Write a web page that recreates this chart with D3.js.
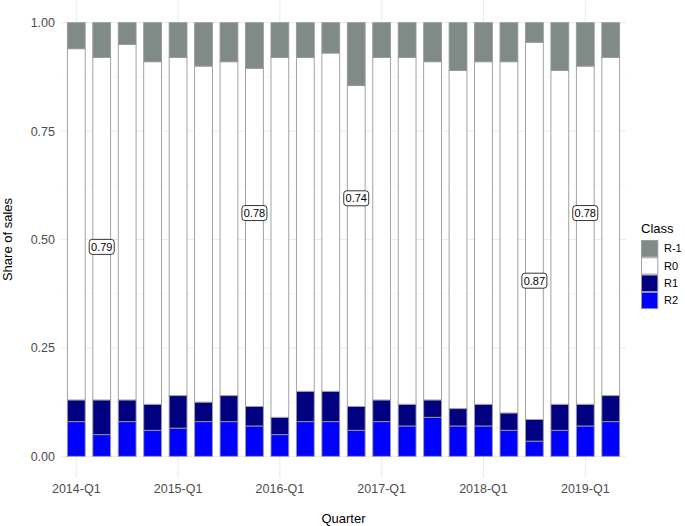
<!DOCTYPE html>
<html>
<head>
<meta charset="utf-8">
<script src="https://cdn.jsdelivr.net/npm/d3@7"></script>
<style>
  body { margin: 0; background: #fff; }
  svg { font-family: "Liberation Sans", Arial, Helvetica, sans-serif; }
</style>
</head>
<body>
<div id="chart"></div>
<script>
// quarters on the x axis
const quarters = [
  "2014-Q1", "2014-Q2", "2014-Q3", "2014-Q4",
  "2015-Q1", "2015-Q2", "2015-Q3", "2015-Q4",
  "2016-Q1", "2016-Q2", "2016-Q3", "2016-Q4",
  "2017-Q1", "2017-Q2", "2017-Q3", "2017-Q4",
  "2018-Q1", "2018-Q2", "2018-Q3", "2018-Q4",
  "2019-Q1", "2019-Q2"
];
const tickQuarters = ["2014-Q1", "2015-Q1", "2016-Q1", "2017-Q1", "2018-Q1", "2019-Q1"];

// share of sales per class
const shareRm1 = [0.06, 0.08, 0.05, 0.09, 0.08, 0.10, 0.09, 0.105, 0.08, 0.08, 0.07,
                  0.145, 0.08, 0.08, 0.09, 0.11, 0.09, 0.09, 0.045, 0.11, 0.10, 0.08];
const shareR0 = [0.81, 0.79, 0.82, 0.79, 0.78, 0.775, 0.77, 0.78, 0.83, 0.77, 0.78,
                 0.74, 0.79, 0.80, 0.78, 0.78, 0.79, 0.81, 0.87, 0.77, 0.78, 0.78];
const shareR1 = [0.05, 0.08, 0.05, 0.06, 0.075, 0.045, 0.06, 0.045, 0.04, 0.07, 0.07,
                 0.055, 0.05, 0.05, 0.04, 0.04, 0.05, 0.04, 0.05, 0.06, 0.05, 0.06];
const shareR2 = [0.08, 0.05, 0.08, 0.06, 0.065, 0.08, 0.08, 0.07, 0.05, 0.08, 0.08,
                 0.06, 0.08, 0.07, 0.09, 0.07, 0.07, 0.06, 0.035, 0.06, 0.07, 0.08];

// annotated R0 shares
const labelQuarters = ["2014-Q2", "2015-Q4", "2016-Q4", "2018-Q3", "2019-Q1"];
const labelTexts = ["0.79", "0.78", "0.74", "0.87", "0.78"];
const labelY = [0.483, 0.561, 0.595, 0.405, 0.561];

const classes = ["R-1", "R0", "R1", "R2"];
const classColors = { "R-1": "#808a87", "R0": "#ffffff", "R1": "#000080", "R2": "#0000ff" };

const width = 685, height = 526;
const margin = { top: 1, right: 59, bottom: 48, left: 61 };
const innerW = width - margin.left - margin.right;
const innerH = height - margin.top - margin.bottom;

const rows = quarters.map((q, i) => ({
  quarter: q, "R-1": shareRm1[i], "R0": shareR0[i], "R1": shareR1[i], "R2": shareR2[i]
}));

const series = d3.stack().keys(["R2", "R1", "R0", "R-1"])(rows);

const x = d3.scaleBand().domain(quarters).range([0, innerW])
  .paddingInner(0.3).paddingOuter(0.25);
const y = d3.scaleLinear().domain([-0.05, 1.05]).range([innerH, 0]);

const svg = d3.select("#chart").append("svg")
  .attr("width", width).attr("height", height);

const g = svg.append("g").attr("transform", `translate(${margin.left},${margin.top})`);

// grid
const grid = g.append("g");
grid.selectAll(".minor").data([0.125, 0.375, 0.625, 0.875]).join("line")
  .attr("x1", 0).attr("x2", innerW)
  .attr("y1", d => y(d)).attr("y2", d => y(d))
  .attr("stroke", "#f2f2f2").attr("stroke-width", 0.6);
grid.selectAll(".major").data([0, 0.25, 0.5, 0.75, 1]).join("line")
  .attr("x1", 0).attr("x2", innerW)
  .attr("y1", d => y(d)).attr("y2", d => y(d))
  .attr("stroke", "#ebebeb").attr("stroke-width", 1);
grid.selectAll(".vx").data(tickQuarters).join("line")
  .attr("x1", d => x(d) + x.bandwidth() / 2).attr("x2", d => x(d) + x.bandwidth() / 2)
  .attr("y1", 0).attr("y2", innerH)
  .attr("stroke", "#ebebeb").attr("stroke-width", 1);

// bars
g.append("g").selectAll("g").data(series).join("g")
  .attr("fill", d => classColors[d.key])
  .selectAll("rect").data(d => d).join("rect")
  .attr("x", d => x(d.data.quarter))
  .attr("width", x.bandwidth())
  .attr("y", d => y(d[1]))
  .attr("height", d => y(d[0]) - y(d[1]))
  .attr("stroke", "#999999")
  .attr("stroke-width", 0.9);

// labels
const lab = g.append("g").selectAll("g").data(labelQuarters).join("g")
  .attr("transform", (d, i) => `translate(${x(d) + x.bandwidth() / 2},${y(labelY[i])})`);
lab.append("rect")
  .attr("x", -12.5).attr("y", -7.5).attr("width", 25).attr("height", 15)
  .attr("rx", 3).attr("fill", "#fff").attr("stroke", "#000").attr("stroke-width", 0.8);
lab.append("text")
  .attr("text-anchor", "middle").attr("dy", "0.36em")
  .attr("font-size", 11).attr("fill", "#000")
  .text((d, i) => labelTexts[i]);

// axes
const yAxis = g.append("g")
  .call(d3.axisLeft(y).tickValues([0, 0.25, 0.5, 0.75, 1]).tickFormat(d3.format(".2f")).tickSize(0).tickPadding(6));
yAxis.select(".domain").remove();
yAxis.selectAll("text").attr("font-size", 12.5).attr("fill", "#4d4d4d");

const xAxis = g.append("g").attr("transform", `translate(0,${innerH})`)
  .call(d3.axisBottom(x).tickValues(tickQuarters).tickSize(0).tickPadding(6));
xAxis.select(".domain").remove();
xAxis.selectAll("text").attr("font-size", 12.5).attr("fill", "#4d4d4d");

svg.append("text")
  .attr("x", margin.left + innerW / 2).attr("y", 523)
  .attr("text-anchor", "middle").attr("font-size", 13).attr("fill", "#000")
  .text("Quarter");

svg.append("text")
  .attr("transform", `translate(12,${margin.top + innerH / 2}) rotate(-90)`)
  .attr("text-anchor", "middle").attr("font-size", 13).attr("fill", "#000")
  .text("Share of sales");

// legend
const leg = svg.append("g").attr("transform", "translate(641,222)");
leg.append("text").attr("x", 0).attr("y", 11).attr("font-size", 13).attr("fill", "#000").text("Class");
const items = leg.selectAll(".item").data(classes).join("g")
  .attr("transform", (d, i) => `translate(0,${18 + i * 17.3})`);
items.append("rect")
  .attr("x", 0.5).attr("y", 0.5).attr("width", 16.3).attr("height", 16.3)
  .attr("fill", d => classColors[d]).attr("stroke", "#999999").attr("stroke-width", 0.9);
items.append("text")
  .attr("x", 23).attr("y", 8.6).attr("dy", "0.35em")
  .attr("font-size", 11).attr("fill", "#000").text(d => d);
</script>
</body>
</html>
